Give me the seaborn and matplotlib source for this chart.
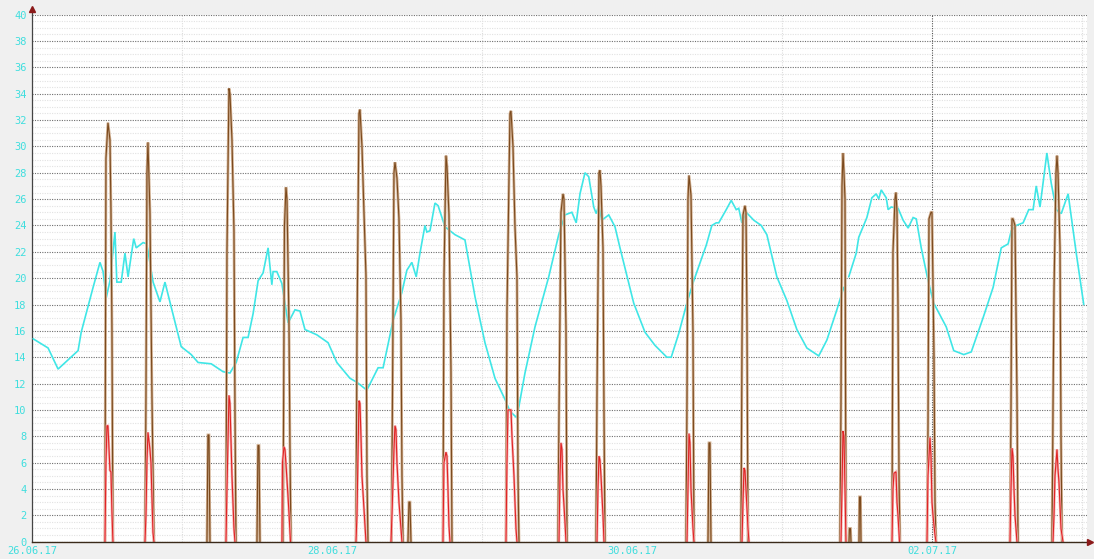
import numpy as np
import pandas as pd
import matplotlib
matplotlib.use("Agg")
import matplotlib.pyplot as plt
import seaborn as sns

# ---------------- data (hours since 26.06.17 00:00) ----------------
day_labels = ["26.06.17", "28.06.17", "30.06.17", "02.07.17"]
day_label_hours = [0, 48, 96, 144]
y_ticks = list(range(0, 41, 2))

temp_hours = [0.1, 2.5, 4.1, 5.7, 7.3, 7.8, 9.7, 10.8, 11.3, 11.8, 12.4, 13.2, 13.5, 14.2, 14.8,
              15.3, 16.2, 16.6, 17.7, 18.3, 19.3, 20.4, 21.2, 22.2, 23.8, 25.4, 26.5, 28.6, 30.5,
              31.6, 32.6, 33.7, 34.5, 35.3, 36.1, 36.9, 37.7, 38.3, 38.5, 39.1, 39.9, 40.9, 42.0,
              42.8, 43.6, 45.5, 47.3, 48.7, 50.8, 51.9, 53.5, 55.3, 56.1, 57.7, 59.1, 59.9, 60.7,
              61.4, 62.0, 62.8, 63.1, 63.6, 64.4, 64.9, 66.0, 67.6, 69.2, 70.8, 72.4, 74.0, 75.6,
              76.4, 77.5, 78.8, 80.4, 82.6, 84.2, 85.2, 86.3, 87.0, 87.6, 88.4, 89.0, 89.8, 90.2,
              90.6, 91.1, 92.2, 93.2, 94.0, 96.2, 98.0, 99.6, 101.5, 102.2, 103.4, 104.7, 105.8,
              107.8, 108.7, 109.4, 109.8, 111.0, 111.8, 112.6, 113.0, 113.5, 114.2, 115.4, 116.6,
              117.5, 119.1, 120.7, 122.3, 123.9, 125.8, 127.1, 128.7, 129.8, 130.2,
              130.6, 131.8, 132.2, 133.5, 134.3, 135.0, 135.4, 135.8, 136.6, 136.9, 137.4, 138.5,
              139.3, 140.1, 140.9, 141.4, 142.2, 143.3, 144.2, 146.2, 147.4, 149.0, 150.2, 152.1,
              153.7, 155.0, 156.1, 156.6, 157.4, 158.5, 159.4, 160.1, 160.6, 161.2, 162.3, 163.0,
              163.8, 164.6, 165.7, 167.0, 168.2]
temp_vals = [15.4, 14.7, 13.1, 13.8, 14.5, 15.9, 19.3, 21.2, 20.5, 18.5, 19.8, 23.5, 19.7, 19.7, 21.9,
             20.1, 23.0, 22.3, 22.7, 22.6, 19.7, 18.2, 19.7, 17.8, 14.8, 14.2, 13.6, 13.5, 12.9,
             12.8, 13.6, 15.5, 15.5, 17.3, 19.8, 20.4, 22.3, 19.5, 20.5, 20.5, 19.6, 16.6, 17.6,
             17.5, 16.1, 15.7, 15.1, 13.6, 12.4, 12.1, 11.5, 13.2, 13.2, 16.8, 18.9, 20.6, 21.2,
             20.1, 21.9, 24.0, 23.5, 23.6, 25.7, 25.5, 23.9, 23.3, 22.9, 18.6, 15.1, 12.4, 10.8,
             9.9, 9.4, 12.8, 16.3, 20.1, 23.3, 24.8, 25.0, 24.2, 26.4, 28.0, 27.7, 25.4, 24.9,
             25.5, 24.4, 24.8, 23.9, 22.3, 18.1, 15.9, 14.9, 14.0, 14.0, 15.8, 18.1, 19.8,
             22.5, 24.0, 24.2, 24.2, 25.2, 25.9, 25.2, 25.3, 24.2, 25.0, 24.4, 24.0,
             23.3, 20.1, 18.3, 16.1, 14.7, 14.1, 15.3, 17.6, 19.3, np.nan,
             20.1, 21.9, 23.1, 24.6, 26.1, 26.4, 26.0, 26.7, 26.1, 25.2, 25.4, 25.3,
             24.4, 23.8, 24.6, 24.5, 22.3, 19.8, 18.1, 16.3, 14.5, 14.2, 14.4, 17.0,
             19.3, 22.3, 22.6, 23.6, 24.0, 24.2, 25.2, 25.2, 27.0, 25.4, 29.5, 27.2,
             25.2, 24.9, 26.4, 21.9, 18.0]

brown_hours = [11.60, 11.76, 12.08, 12.40, 12.56, 12.72, 12.88,
               18.00, 18.16, 18.32, 18.48, 18.80, 19.12, 19.44,
               27.92, 28.08, 28.24, 28.40,
               30.96, 31.12, 31.44, 31.60, 31.92, 32.24, 32.40, 32.56,
               35.92, 36.08, 36.24, 36.40,
               40.08, 40.32, 40.56, 40.72, 41.04, 41.20, 41.36,
               51.76, 51.92, 52.24, 52.40, 52.72, 53.04, 53.36, 53.52, 53.68,
               57.44, 57.60, 57.84, 58.00, 58.32, 58.64, 58.96, 59.12, 59.28,
               60.08, 60.24, 60.40, 60.56,
               65.68, 65.84, 66.16, 66.32, 66.64, 66.96, 67.12,
               75.76, 75.92, 76.40, 76.56, 76.88, 77.20, 77.52, 77.68, 77.84,
               84.08, 84.24, 84.56, 84.88, 85.04, 85.36, 85.52,
               90.16, 90.32, 90.64, 90.80, 90.96, 91.28, 91.44, 91.60,
               104.56, 104.72, 104.88, 105.04, 105.36, 105.68, 105.84,
               108.08, 108.24, 108.40, 108.56,
               113.36, 113.52, 113.68, 114.00, 114.16, 114.32, 114.48,
               129.20, 129.36, 129.52, 129.68, 129.84, 130.00, 130.16,
               130.64, 130.72, 130.88, 130.96,
               132.24, 132.32, 132.48, 132.56,
               137.52, 137.68, 138.00, 138.16, 138.32, 138.48, 138.64, 138.80,
               143.12, 143.28, 143.44, 143.76, 143.92, 144.24, 144.40, 144.56,
               156.40, 156.56, 156.72, 156.88, 157.20, 157.52, 157.68,
               163.12, 163.28, 163.44, 163.76, 163.92, 164.08, 164.40, 164.56, 164.72]
brown_vals = [0, 29.1, 31.8, 30.5, 25.2, 16.0, 0,
              0, 11.0, 28.0, 30.3, 25.0, 11.0, 0,
              0, 8.1, 8.1, 0,
              0, 22.0, 34.4, 34.0, 30.5, 23.6, 10.0, 0,
              0, 7.3, 7.3, 0,
              0, 24.0, 26.9, 26.0, 16.6, 7.0, 0,
              0, 15.5, 32.5, 32.8, 30.0, 25.0, 20.2, 5.0, 0,
              0, 10.9, 28.0, 28.8, 27.6, 24.5, 16.8, 5.0, 0,
              0, 3.0, 3.0, 0,
              0, 20.0, 29.3, 28.5, 24.8, 13.0, 0,
              0, 17.4, 32.5, 32.7, 30.0, 23.9, 20.1, 5.0, 0,
              0, 9.6, 25.0, 26.4, 26.0, 16.3, 0,
              0, 11.0, 28.0, 28.2, 27.0, 22.3, 10.0, 0,
              0, 10.6, 26.0, 27.8, 26.3, 15.9, 0,
              0, 7.5, 7.5, 0,
              0, 15.0, 24.8, 25.5, 25.0, 16.6, 0,
              0, 10.5, 27.0, 29.5, 28.0, 26.0, 0,
              0, 1.0, 1.0, 0,
              0, 3.4, 3.4, 0,
              0, 22.0, 26.0, 26.5, 25.0, 17.8, 5.0, 0,
              0, 8.7, 24.5, 25.0, 25.0, 14.0, 3.0, 0,
              0, 10.0, 24.5, 24.5, 24.0, 11.0, 0,
              0, 10.0, 19.0, 28.0, 29.3, 28.0, 22.3, 8.0, 0]

red_hours = [11.60, 11.76, 11.92, 12.08, 12.40, 12.56, 12.72, 12.88,
             18.00, 18.16, 18.32, 18.48, 18.80, 18.96, 19.28, 19.44,
             30.96, 31.12, 31.44, 31.60, 31.92, 32.24, 32.40,
             39.92, 40.00, 40.24, 40.40, 40.56, 40.88, 41.04, 41.28,
             51.76, 51.92, 52.08, 52.24, 52.40, 52.56, 52.72, 53.04, 53.36,
             57.36, 57.52, 57.84, 58.00, 58.16, 58.32, 58.64, 58.96, 59.12,
             65.68, 65.84, 66.16, 66.32, 66.48, 66.64, 66.80,
             75.76, 75.92, 76.08, 76.56, 76.72, 77.04, 77.36, 77.52,
             84.24, 84.40, 84.56, 84.72, 84.88, 85.20, 85.36,
             90.32, 90.48, 90.64, 90.80, 90.96, 91.28, 91.44,
             104.72, 104.88, 105.04, 105.20, 105.36, 105.68, 105.84,
             113.52, 113.68, 113.84, 114.00, 114.16, 114.48, 114.64,
             129.36, 129.52, 129.68, 129.84, 130.00, 130.16,
             137.52, 137.68, 137.84, 138.16, 138.32, 138.48, 138.72,
             143.12, 143.28, 143.60, 143.76, 143.92, 144.08, 144.40, 144.56,
             156.40, 156.56, 156.72, 156.88, 157.04, 157.20, 157.52,
             163.28, 163.44, 163.60, 163.92, 164.08, 164.24, 164.56, 164.88]
red_vals = [0, 6.0, 8.8, 8.8, 5.4, 5.3, 2.2, 0,
            0, 2.0, 6.1, 8.3, 7.0, 6.0, 0.7, 0,
            0, 4.0, 11.1, 10.5, 5.0, 1.0, 0,
            0, 6.0, 7.2, 7.0, 5.9, 3.5, 2.2, 0,
            0, 2.0, 6.5, 10.7, 10.5, 8.0, 5.0, 2.5, 0,
            0, 2.0, 7.0, 8.8, 8.5, 6.0, 3.0, 1.0, 0,
            0, 6.0, 6.8, 6.5, 4.0, 1.2, 0,
            0, 6.0, 10.0, 10.0, 8.0, 5.0, 1.0, 0,
            0, 5.0, 7.5, 7.0, 4.0, 1.5, 0,
            0, 4.0, 6.5, 6.2, 5.0, 2.0, 0,
            0, 4.0, 8.2, 7.5, 4.0, 1.0, 0,
            0, 3.0, 5.6, 5.4, 4.0, 1.0, 0,
            0, 4.0, 8.4, 8.0, 4.0, 0,
            0, 4.0, 5.2, 5.3, 3.0, 2.0, 0,
            0, 5.0, 7.9, 6.5, 3.0, 2.0, 0.5, 0,
            0, 4.0, 7.1, 6.5, 4.0, 2.0, 0,
            0, 2.0, 5.0, 7.0, 5.5, 4.5, 1.0, 0]

# ---------------- styling ----------------
CYAN = "#3fe6e6"
LABEL = "#3fdede"
BROWN = "#7b4a1e"
BROWN_HALO = "#d2b193"
RED = "#e02424"
RED_HALO = "#f5b0b0"


def spike_frame(hours, vals):
    """Group points into spikes: each spike starts at a zero that follows a zero."""
    df = pd.DataFrame({"h": hours, "v": vals})
    prev = df["v"].shift(1)
    starts = (df["v"] == 0) & ((prev == 0) | prev.isna())
    return df.assign(spike=starts.cumsum())


sns.set_style("white")
plt.rcParams["font.family"] = ["DejaVu Sans Mono", "DejaVu Sans"]

fig = plt.figure(figsize=(10.94, 5.59), dpi=100, facecolor="#f0f0f0")
ax = fig.add_axes([0.0295, 0.031, 0.9641, 0.9428])
ax.set_facecolor("white")

# temperature line, split at the data gap
temp = pd.DataFrame({"h": temp_hours, "v": temp_vals})
seg = temp["v"].isna().cumsum()
temp = temp.assign(seg=seg).dropna()
sns.lineplot(data=temp, x="h", y="v", units="seg", estimator=None, sort=False,
             color=CYAN, lw=1.2, ax=ax, zorder=3)

brown = spike_frame(brown_hours, brown_vals)
sns.lineplot(data=brown, x="h", y="v", units="spike", estimator=None, sort=False,
             color=BROWN_HALO, lw=2.0, ax=ax, zorder=4)
sns.lineplot(data=brown, x="h", y="v", units="spike", estimator=None, sort=False,
             color=BROWN, lw=0.8, ax=ax, zorder=5)

red = spike_frame(red_hours, red_vals)
sns.lineplot(data=red, x="h", y="v", units="spike", estimator=None, sort=False,
             color=RED_HALO, lw=1.8, ax=ax, zorder=6)
sns.lineplot(data=red, x="h", y="v", units="spike", estimator=None, sort=False,
             color=RED, lw=0.8, ax=ax, zorder=7)

for line in ax.get_lines():
    line.set_solid_joinstyle("miter")

# axes, ticks, grid
ax.set_xlim(-0.03, 168.72)
ax.set_ylim(0, 40)
ax.set_yticks(y_ticks)
ax.set_yticklabels([str(t) for t in y_ticks])
ax.set_yticks(np.arange(0, 40.01, 0.5), minor=True)
ax.set_xticks(day_label_hours)
ax.set_xticklabels(day_labels)
ax.set_xticks(np.arange(0, 169, 24), minor=True)
ax.set_xlabel("")
ax.set_ylabel("")

dot = (0, (1, 1.2))
ax.grid(False)
ax.grid(which="minor", axis="y", color="#e2e2e2", linestyle=dot, lw=0.8, zorder=0)
ax.grid(which="minor", axis="x", color="#dcdcdc", linestyle=dot, lw=0.8, zorder=0)
ax.grid(which="major", axis="y", color="#6e6e6e", linestyle=dot, lw=0.8, zorder=1)
ax.axvline(day_label_hours[-1], color="#555555", linestyle=dot, lw=0.8, zorder=1)
ax.set_axisbelow(True)

ax.tick_params(axis="y", which="major", length=2, width=0.8, color="#555555",
               labelsize=7.5, labelcolor=LABEL, pad=2)
ax.tick_params(axis="x", which="major", length=0, labelsize=7.5,
               labelcolor=LABEL, pad=3)
ax.tick_params(which="minor", length=0)

for side in ("top", "right"):
    ax.spines[side].set_visible(False)
ax.spines["left"].set_color("#444444")
ax.spines["left"].set_linewidth(0.9)
ax.spines["bottom"].set_color("#3a2a1a")
ax.spines["bottom"].set_linewidth(1.0)
ax.spines["bottom"].set_zorder(8)

# axis arrows
ax.plot([0, 0], [1.0, 1.008], color="#444444", lw=0.9, transform=ax.transAxes, clip_on=False)
ax.plot([0], [1.011], marker="^", ms=4.5, color="#8b1a1a", transform=ax.transAxes,
        clip_on=False, zorder=10)
ax.plot([1.0, 1.002], [0, 0], color="#3a2a1a", lw=1.0, transform=ax.transAxes, clip_on=False)
ax.plot([1.003], [0], marker=">", ms=4.5, color="#8b1a1a", transform=ax.transAxes,
        clip_on=False, zorder=10)

fig.savefig("out.png", dpi=100, facecolor=fig.get_facecolor())
